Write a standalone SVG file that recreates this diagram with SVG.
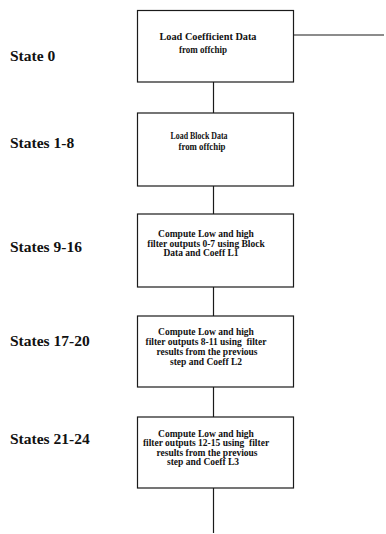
<svg xmlns="http://www.w3.org/2000/svg" width="386" height="534" viewBox="0 0 386 534">
<style>
.bg{fill:#fff}
.box{fill:#fff;stroke:#1a1a1a;stroke-width:1.2}
.con{stroke:#1a1a1a;stroke-width:1.2;fill:none}
.st{font-family:"Liberation Serif","Times New Roman",serif;font-weight:bold;font-size:15.5px;fill:#111}
.bt{font-family:"Liberation Serif","Times New Roman",serif;font-weight:bold;font-size:9.5px;fill:#111;text-anchor:middle;white-space:pre}
</style>
<rect class="bg" x="0" y="0" width="386" height="534"/>
<g id="connectors">
<line class="con" x1="294" y1="35" x2="384" y2="35"/>
<line class="con" x1="213.5" y1="82" x2="213.5" y2="113"/>
<line class="con" x1="213.5" y1="186" x2="213.5" y2="214"/>
<line class="con" x1="213.5" y1="287" x2="213.5" y2="316"/>
<line class="con" x1="213.5" y1="387" x2="213.5" y2="417"/>
<line class="con" x1="213.5" y1="488" x2="213.5" y2="533"/>
</g>
<g id="labels">
<text class="st" x="10" y="61">State 0</text>
<text class="st" x="10" y="148">States 1-8</text>
<text class="st" x="10" y="252">States 9-16</text>
<text class="st" x="10" y="346">States 17-20</text>
<text class="st" x="10" y="444">States 21-24</text>
</g>
<g id="node0">
<rect class="box" x="137.5" y="10.5" width="156" height="71.5"/>
<text class="bt" x="208" y="40" textLength="97" lengthAdjust="spacingAndGlyphs">Load Coefficient Data</text>
<text class="bt" x="203" y="53" textLength="48" lengthAdjust="spacingAndGlyphs">from offchip</text>
</g>
<g id="node1">
<rect class="box" x="137.5" y="113" width="156" height="73"/>
<text class="bt" x="199" y="139" textLength="57" lengthAdjust="spacingAndGlyphs">Load Block Data</text>
<text class="bt" x="202" y="150" textLength="47" lengthAdjust="spacingAndGlyphs">from offchip</text>
</g>
<g id="node2">
<rect class="box" x="137.5" y="214" width="156" height="73"/>
<text class="bt" x="206" y="237">Compute Low and high</text>
<text class="bt" x="206" y="247">filter outputs 0-7 using Block</text>
<text class="bt" x="201" y="256">Data and Coeff L1</text>
</g>
<g id="node3">
<rect class="box" x="137.5" y="316" width="156" height="71"/>
<text class="bt" x="206" y="335">Compute Low and high</text>
<text class="bt" x="206" y="345">filter outputs 8-11 using  filter</text>
<text class="bt" x="207" y="355">results from the previous</text>
<text class="bt" x="206" y="364.5">step and Coeff L2</text>
</g>
<g id="node4">
<rect class="box" x="137.5" y="417" width="156" height="71"/>
<text class="bt" x="206" y="437">Compute Low and high</text>
<text class="bt" x="206" y="446">filter outputs 12-15 using  filter</text>
<text class="bt" x="207" y="456">results from the previous</text>
<text class="bt" x="203" y="465">step and Coeff L3</text>
</g>
</svg>
